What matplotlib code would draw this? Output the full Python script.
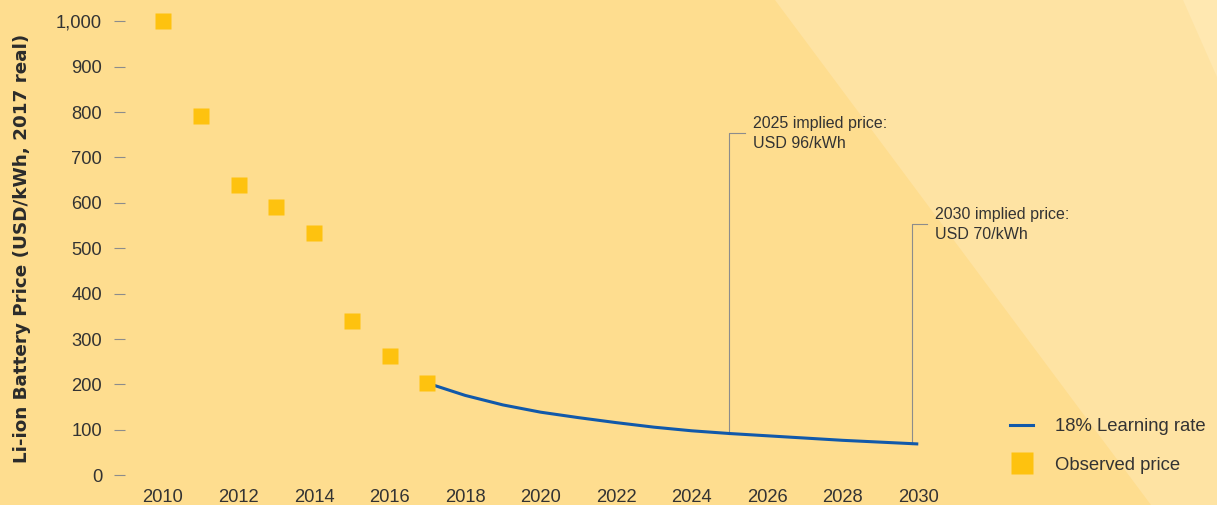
import matplotlib.pyplot as plt
import numpy as np
from matplotlib.patches import Polygon
from matplotlib.lines import Line2D
from matplotlib.ticker import FuncFormatter

# observed Li-ion pack prices (USD/kWh, 2017 real)
obs_years = [2010, 2011, 2012, 2013, 2014, 2015, 2016, 2017]
obs_price = [1000, 791, 639, 591, 534, 340, 263, 203]

# 18% learning rate projection
proj_years = [2017, 2018, 2019, 2020, 2021, 2022, 2023, 2024, 2025, 2026, 2027, 2028, 2029, 2030]
proj_price = [203, 176, 155, 139, 127, 116, 106, 98, 92, 87, 82, 77, 73, 69]

# callouts
ann_years = [2025, 2030]
ann_labels = ['2025 implied price:\nUSD 96/kWh', '2030 implied price:\nUSD 70/kWh']
ann_tops = [753, 553]

x_ticks = list(range(2010, 2031, 2))
y_ticks = list(range(0, 1001, 100))

bg = '#FEDD8F'
bg_light = '#FEE3A3'
bg_lighter = '#FFE8B1'
square_col = '#FEC20F'
line_col = '#1159AA'
lead_col = '#8C8C8C'
txt_col = '#333333'

plt.rcParams['font.family'] = ['Liberation Sans', 'DejaVu Sans']

W, H = 1217, 505
fig = plt.figure(figsize=(W / 100, H / 100), dpi=100, facecolor=bg)

# lighter diagonal bands on the right
def fpts(pts):
    return [(x / W, 1 - y / H) for x, y in pts]

fig.patches.append(Polygon(fpts([(775, 0), (W, 0), (W, H), (1151, H)]),
                           transform=fig.transFigure, fc=bg_light, ec='none', zorder=-10))
fig.patches.append(Polygon(fpts([(1183, 0), (W, 0), (W, 77)]),
                           transform=fig.transFigure, fc=bg_lighter, ec='none', zorder=-10))

ax = fig.add_axes([125 / W, (H - 485) / H, (W - 125) / W, 485 / H])
ax.set_facecolor('none')
ax.set_xlim(2008.994, 2037.91)
ax.set_ylim(-21.4, 1046.9)

for s in ax.spines.values():
    s.set_visible(False)

ax.set_xticks(x_ticks)
ax.set_yticks(y_ticks)
ax.yaxis.set_major_formatter(FuncFormatter(lambda v, p: f'{v:,.0f}'))
ax.tick_params(axis='x', length=0, pad=3, labelsize=13.2, labelcolor=txt_col)
ax.tick_params(axis='y', length=7.9, width=0.8, color=lead_col, pad=8.6,
               labelsize=13.2, labelcolor=txt_col)

ax.set_ylabel('Li-ion Battery Price (USD/kWh, 2017 real)', family='DejaVu Sans',
              fontweight='bold', fontsize=13.2, color='#2B2B2B')
ax.yaxis.set_label_coords(-0.086, 0.487)

# projection line
ax.plot(proj_years, proj_price, color=line_col, lw=2.2, solid_capstyle='butt',
        solid_joinstyle='round', zorder=3)
# observed squares
ax.plot(obs_years, obs_price, linestyle='none', marker='s', markersize=11.5,
        color=square_col, mec='none', zorder=4)

# callout leaders
ann_x = [ann_years[0], ann_years[1] - 0.17]
for xv, top, lab in zip(ann_x, ann_tops, ann_labels):
    bottom = np.interp(xv, proj_years, proj_price)
    ax.plot([xv, xv, xv + 0.4], [bottom, top, top], color=lead_col, lw=0.8, zorder=2)
    ax.text(xv + 0.62, top, lab, fontsize=11.5, color=txt_col, va='center', ha='left',
            linespacing=1.45)

handles = [Line2D([], [], color=line_col, lw=2.2),
           Line2D([], [], linestyle='none', marker='s', markersize=16.5,
                  color=square_col, mec='none')]
ax.legend(handles, ['18% Learning rate', 'Observed price'], loc='upper left',
          bbox_to_anchor=(1010 / W, 1 - 418 / H), bbox_transform=fig.transFigure,
          frameon=False, fontsize=13.3, handlelength=1.25, handletextpad=1.2,
          borderpad=0, borderaxespad=0, labelspacing=1.18, labelcolor=txt_col)

fig.savefig('out.png', dpi=100, facecolor=bg)
